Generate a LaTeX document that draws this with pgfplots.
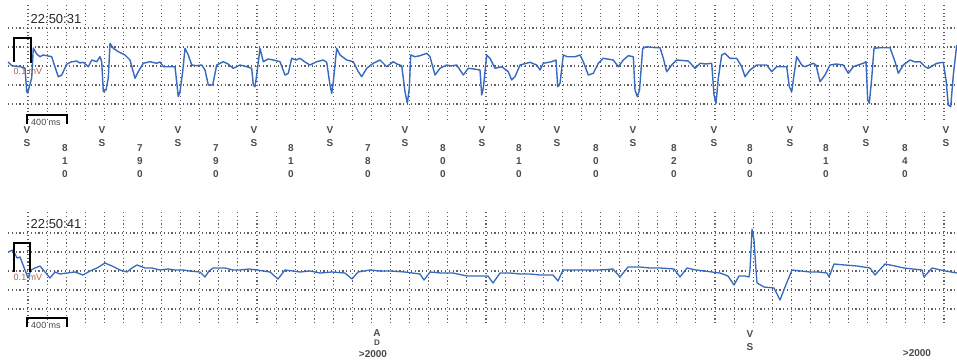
\documentclass[border=0pt]{standalone}
\usepackage{pgfplots}
\pgfplotsset{compat=1.18}
\usepackage{pgfplotstable}
\usepackage{fontspec}
\setmainfont{Liberation Sans}
\definecolor{ecg}{RGB}{55,105,190}
\definecolor{gridc}{RGB}{95,95,95}
\definecolor{cal}{RGB}{175,100,75}
\definecolor{lab}{RGB}{75,75,75}
% digitised traces: x = horizontal position (px), y = vertical position (px, downwards)
\pgfplotstableread{
x y
8 62
12 65.7
20 66.7
25 68
26.7 91.7
27.7 93
29.3 86.7
31.7 78
33.3 48
36.7 54
40 56.7
43 55
46.7 55.7
51.7 56.7
53.3 61.7
58.3 76.7
61.7 75
66.7 64.3
71 62
76.7 61
80 63
83.3 62.3
88.3 66.7
91.7 60
96.7 61.7
100 56.7
101.7 61.7
103.3 91.7
106 90
108.3 78
110 43.3
113.3 48.3
118.3 51.7
121 53
125 55
130 60
135 78.3
138.3 71.7
143.3 63.3
150 61.7
156.7 63.3
160 62
163.3 66.7
170 66.7
175 66.7
178.3 96.7
180 91.7
182.7 71.7
185 48.3
188.3 55
191.7 65
196.7 65.7
201.7 65
205 70
208.3 85
212.7 85
216.7 65
223.3 61.7
228 64
233.3 68.3
240 65
246.7 66.7
251.7 68.3
253.3 85
255 86.7
256.7 75
260 48.3
263.3 61.7
268 59
273.3 60
280 61.7
285 75
288.3 73.3
291.7 58.3
296 60
300 58.3
305 62
310 65
316.7 61.7
323.3 60
326.7 62.3
330 85
331.7 93.3
333.3 81.7
336.7 48.3
340 55
346.7 60
353.3 61.7
358.3 71.7
361.7 76.7
366.7 68.3
373.3 63.3
380 60
386.7 66.7
393.3 61.7
397 64
401.7 65.7
405 91.7
407.3 103.3
409.3 88.3
410.7 55
415 56.7
420 55.7
426.7 53.3
430 56.7
435 75
440 68.3
446.7 65
451 66
456.7 65
463.3 75
468.3 68.3
474 69
480 70
481.7 95
483.3 88.3
486.7 55
490 58.3
495 68.3
501.7 66.7
508.3 71.7
511.7 80
515 76.7
520 65
530 62.3
536.7 65
540 70
543.3 63.3
551.7 61.7
556 60
557.7 86.7
560 83.3
563.3 55
567.3 56.7
575 56.7
580 55
583.3 61.7
588.3 75
593.3 73.3
598.3 63.3
603.3 58.3
613.3 60
618.3 66.7
623.3 60
628.3 55.7
633.3 56.7
635 90
637.3 96.7
639.5 90
642.7 48.3
646.7 46.7
653 47.5
660 47.7
663.3 58.3
666.7 71.7
671.7 65
676.7 60
688.3 61
695 68.3
700 63.3
706 64
711.7 63.3
714 95
716 103.3
718.3 78.3
721.7 55
725 53.3
730 58.3
736.7 58.3
741.7 66.7
745 76.7
750 70
756.7 65
766.7 65
771.7 71.7
776.7 66.7
786.7 66.7
789.3 86.7
791.7 91.7
794 75
796.7 56.7
801.7 65
805 66.7
813.3 63.3
816 65
820 81.7
825 75
830 65
836 64
843.3 65
848.3 73.3
853.3 66.7
858 65
863.3 63.3
866 61.7
867.7 100
869.3 103.3
871.7 78.3
874 48.3
880 47.7
890 47.7
895 61.7
898.3 73.3
903.3 65
910 60
915 62
920 61.7
925 66.7
928.3 68.3
936.7 63.3
943.3 62.3
946 80
948.3 105
950.7 106.7
953.3 75
956.7 45
}\topecg
\pgfplotstableread{
x y
8 252
13 250
17 258
20 257
25 270
28 278
31 270
35 268
40 266
45 272
50 278
55 272
60 274
67 273
75 272
83 275
90 271
97 268
105 263
112 266
120 270
127 272
132 268
137 265
145 268
152 268
160 270
168 269
175 270
183 270
190 271
200 272
205 277
209 271
213 268
225 268
233 270
240 270
249 269
257 270
270 272
278 279
285 270
293 271
300 272
310 271
320 273
332 272
345 273
352 279
358 272
370 270
380 271
390 271
405 272
420 274
424 280
430 272
441 273
453 273
467 276
478 276
488 276
493 283
500 273
510 273
520 274
530 274
540 275
553 275
558 281
563 270
576 270
590 270
600 270
613 269
620 277
628 267
640 267
650 268
660 268
674 269
680 277
687 268
696 270
705 271
712 272
720 273
728 276
734 285
739 276
745 276
749 277
750 270
752 229
754 240
756 270
757 283
764 287
774 288
780 300
785 287
792 270
801 271
810 272
818 272
827 273
829 277
834 264
845 265
857 266
870 268
875 275
885 264
895 266
904 268
913 269
922 270
924 277
932 268
945 271
957 273
}\botecg
\begin{document}
\begin{tikzpicture}[x=1pt,y=1pt]
\useasboundingbox (0,0) rectangle (957,359);
\begin{scope}[y=-1pt, shift={(0pt,359pt)}]
  \tikzset{gridline/.style={gridc, line width=1.1pt, dash pattern=on 1.1pt off 2.7pt}}
  \foreach \k in {0,...,48}{
    \draw[gridline] ({28+19.083*\k},5) -- ({28+19.083*\k},120);
    \draw[gridline] ({28+19.083*\k},212) -- ({28+19.083*\k},325);
  }
  \foreach \yy in {28,47,66,85,104,233,252,271,290,309}
    \draw[gridline] (8,\yy) -- (955,\yy);
\end{scope}
\begin{axis}[at={(0pt,0pt)}, anchor=south west, scale only axis,
  width=957pt, height=359pt, xmin=0, xmax=957, ymin=0, ymax=359,
  y dir=reverse, hide axis]
  \addplot[ecg, line width=1.4pt, line join=round] table[x=x,y=y] {\topecg};
  \addplot[ecg, line width=1.3pt, line join=round] table[x=x,y=y] {\botecg};
\end{axis}
\begin{scope}[y=-1pt, shift={(0pt,359pt)}]
  \tikzset{lbl/.style={font=\bfseries\fontsize{10}{12}\selectfont, text=lab, inner sep=0pt}}
  % calibration marks
  \draw[black, line width=1.6pt] (14,62) -- (14,38) -- (31,38) -- (31,63);
  \draw[black, line width=1.6pt] (14,272) -- (14,243) -- (30,243) -- (30,272);
  \draw[black, line width=1.2pt] (27,124) -- (27,115) -- (67,115) -- (67,124);
  \draw[black, line width=1.2pt] (27,327) -- (27,318) -- (67,318) -- (67,327);
  \node[font=\fontsize{9}{10}\selectfont, text=lab, inner sep=0pt] at (46,122) {400 ms};
  \node[font=\fontsize{9}{10}\selectfont, text=lab, inner sep=0pt] at (46,325) {400 ms};
  \node[font=\fontsize{9}{10}\selectfont, text=cal, inner sep=0pt] at (28,71) {0.1 mV};
  \node[font=\fontsize{9}{10}\selectfont, text=cal, inner sep=0pt] at (28,277) {0.1 mV};
  \node[font=\fontsize{13}{15}\selectfont, text=black!85, inner sep=0pt] at (56,19) {22:50:31};
  \node[font=\fontsize{13}{15}\selectfont, text=black!85, inner sep=0pt] at (56,224) {22:50:41};
  % event markers
  \foreach \xx in {27,102,178,254,330,405,482,557,633,714,790,866,946}{
    \node[lbl] at (\xx,130) {V};
    \node[lbl] at (\xx,143) {S};
  }
  \foreach \xx/\a/\b/\c in {65/8/1/0,140/7/9/0,216/7/9/0,291/8/1/0,368/7/8/0,443/8/0/0,519/8/1/0,596/8/0/0,674/8/2/0,750/8/0/0,826/8/1/0,905/8/4/0}{
    \node[lbl] at (\xx,148) {\a};
    \node[lbl] at (\xx,161) {\b};
    \node[lbl] at (\xx,174) {\c};
  }
  \node[lbl] at (377,333) {A};
  \node[lbl, font=\bfseries\fontsize{8}{9}\selectfont] at (377,343) {D};
  \node[lbl] at (373,354) {>2000};
  \node[lbl] at (750,334) {V};
  \node[lbl] at (750,347) {S};
  \node[lbl] at (917,353) {>2000};
\end{scope}
\end{tikzpicture}
\end{document}
